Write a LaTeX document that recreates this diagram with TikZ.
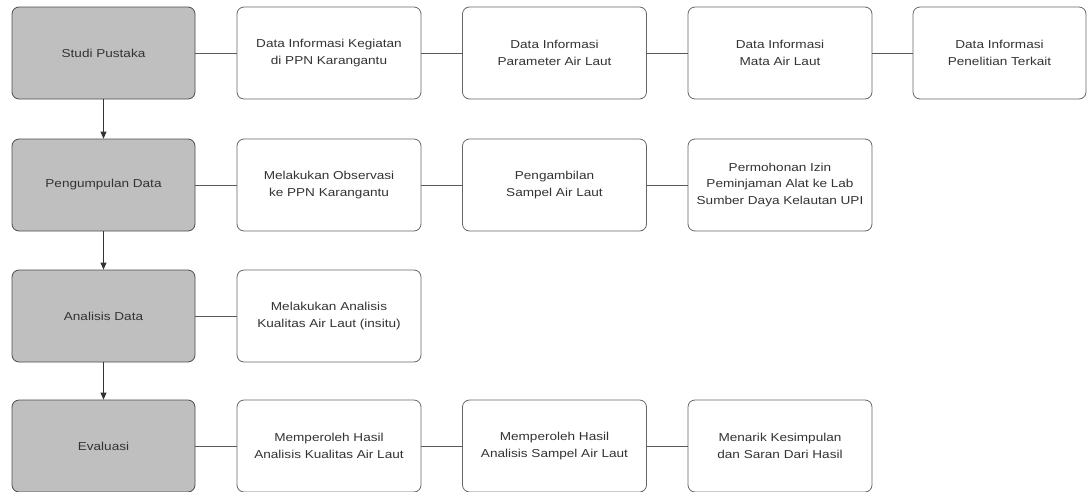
\documentclass[tikz,border=0pt]{standalone}
\usepackage{fontspec}
\setmainfont{Liberation Sans}[FakeStretch=1.18]
\usetikzlibrary{arrows.meta}
\begin{document}
\begin{tikzpicture}[x=1pt,y=-1pt,
  phase/.style={draw=black!70,fill=black!25,rounded corners=7pt,line width=0.8pt,
    minimum width=183pt,minimum height=92pt,inner sep=0pt,align=center,
    font=\fontsize{11.5}{16.5}\selectfont,text=black!80},
  task/.style={draw=black!60,fill=white,rounded corners=7pt,line width=0.8pt,
    minimum width=184pt,minimum height=92pt,inner sep=0pt,align=center,
    font=\fontsize{11.5}{16.5}\selectfont,text=black!80},
  link/.style={draw=black!65,line width=0.8pt},
  flow/.style={draw=black!80,line width=0.8pt,-{Triangle[length=7pt,width=6pt]}}]
\useasboundingbox (0,0) rectangle (1088,491);
% phases
\node[phase] (p1) at (103.5,53) {Studi Pustaka};
\node[phase] (p2) at (103.5,185) {Pengumpulan Data};
\node[phase] (p3) at (103.5,316) {Analisis Data};
\node[phase] (p4) at (103.5,446) {Evaluasi};
% row 1
\node[task] (a1) at (329,53) {Data Informasi Kegiatan\\di PPN Karangantu};
\node[task] (a2) at (554.5,53) {Data Informasi\\Parameter Air Laut};
\node[task] (a3) at (780,53) {Data Informasi\\Mata Air Laut};
\node[task,minimum width=173pt] (a4) at (999.5,53) {Data Informasi\\Penelitian Terkait};
% row 2
\node[task] (b1) at (329,185) {Melakukan Observasi\\ke PPN Karangantu};
\node[task] (b2) at (554.5,185) {Pengambilan\\Sampel Air Laut};
\node[task] (b3) at (780,185) {Permohonan Izin\\Peminjaman Alat ke Lab\\Sumber Daya Kelautan UPI};
% row 3
\node[task] (c1) at (329,316) {Melakukan Analisis\\Kualitas Air Laut (insitu)};
% row 4
\node[task] (d1) at (329,446) {Memperoleh Hasil\\Analisis Kualitas Air Laut};
\node[task] (d2) at (554.5,446) {Memperoleh Hasil\\Analisis Sampel Air Laut};
\node[task] (d3) at (780,446) {Menarik Kesimpulan\\dan Saran Dari Hasil};
% vertical flow
\draw[flow] (p1) -- (p2);
\draw[flow] (p2) -- (p3);
\draw[flow] (p3) -- (p4);
% horizontal links
\draw[link] (p1) -- (a1);
\draw[link] (a1) -- (a2);
\draw[link] (a2) -- (a3);
\draw[link] (a3) -- (a4);
\draw[link] (p2) -- (b1);
\draw[link] (b1) -- (b2);
\draw[link] (b2) -- (b3);
\draw[link] (p3) -- (c1);
\draw[link] (p4) -- (d1);
\draw[link] (d1) -- (d2);
\draw[link] (d2) -- (d3);
\end{tikzpicture}
\end{document}
